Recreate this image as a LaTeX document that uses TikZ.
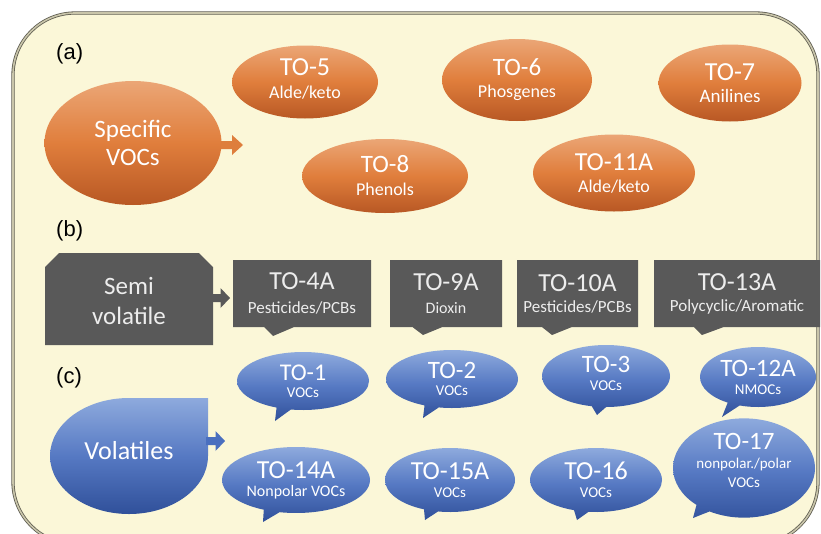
\documentclass[tikz,border=0pt]{standalone}
\usepackage{fontspec}
\setmainfont{Carlito}
\newfontfamily\helv{Liberation Sans}
\usetikzlibrary{shapes.geometric,shapes.callouts}
\definecolor{cream}{HTML}{FBF7D8}
\definecolor{frameDk}{HTML}{5E5C50}
\definecolor{frameLt}{HTML}{C9C5AA}
\definecolor{orTop}{HTML}{EBA676}
\definecolor{orMid}{HTML}{E07E3C}
\definecolor{orBot}{HTML}{B85824}
\definecolor{orArr}{HTML}{DE7E3C}
\definecolor{gy}{HTML}{595959}
\definecolor{gyText}{HTML}{EDEDED}
\definecolor{blTop}{HTML}{8EAADD}
\definecolor{blMid}{HTML}{5679C3}
\definecolor{blBot}{HTML}{30509A}
\definecolor{blArr}{HTML}{4A6FBF}
\newcommand\fs[2]{\fontsize{#1}{#2}\selectfont}
\newcommand\blockarrow[4]{% x0, y, tip x, colour
  \fill[#4] (#1,#2-4) -- ({(#1+#3)/2},#2-4) -- ({(#1+#3)/2},#2-10) -- (#3,#2)
    -- ({(#1+#3)/2},#2+10) -- ({(#1+#3)/2},#2+4) -- (#1,#2+4) -- cycle;}
\tikzset{
  orng/.style={ellipse, inner sep=0pt, top color=orTop, bottom color=orBot, middle color=orMid,
    text=white, align=center},
  gbox/.style={rectangle callout, inner sep=0pt, fill=gy, text=gyText, align=center,
    callout pointer width=30pt},
  bbub/.style={ellipse callout, inner sep=0pt, top color=blTop, bottom color=blBot, middle color=blMid,
    text=white, align=center, callout pointer arc=13},
  sec/.style={font=\helv\fs{22}{24}, text=black, anchor=west, inner sep=0pt},
}
\begin{document}
\begin{tikzpicture}[x=1pt,y=-1pt]
\clip (0,0) rectangle (821,533);
\fill[white] (0,0) rectangle (821,533);
\draw[draw=frameDk, line width=0.8pt, double=frameLt, double distance=1.6pt, fill=cream, rounded corners=62pt]
  (13,13) rectangle (818,544);

% section labels
\node[sec] (la) at (56,54) {(a)};
\node[sec] (lb) at (56,231) {(b)};
\node[sec] (lc) at (56,378) {(c)};

% (a) specific VOCs
\node[orng, minimum width=177pt, minimum height=124pt, font=\fs{25}{28}] (spec) at (133,143) {Specific\\VOCs};
\blockarrow{221}{145}{243}{orArr}
\node[orng, minimum width=146pt, minimum height=73pt, font=\fs{18}{23}, text depth=6pt] (to5) at (305,82) {{\fs{26}{26}TO-5}\\Alde/keto};
\node[orng, minimum width=150pt, minimum height=82pt, font=\fs{18}{22}] (to6) at (517,80) {{\fs{25}{26}TO-6}\\Phosgenes};
\node[orng, minimum width=143pt, minimum height=77pt, font=\fs{19}{22}] (to7) at (730,83) {{\fs{26}{26}TO-7}\\Anilines};
\node[orng, minimum width=166pt, minimum height=74pt, font=\fs{18}{23}] (to8) at (385,176) {{\fs{25}{26}TO-8}\\Phenols};
\node[orng, minimum width=162pt, minimum height=77pt, font=\fs{18}{22}] (to11) at (614,173) {{\fs{26}{26}TO-11A}\\Alde/keto};

% (b) semi volatile
\fill[gy] (45,267) -- (59,253) -- (199,253) -- (213,267) -- (213,345) -- (45,345) -- cycle;
\node[text=gyText, align=center, font=\fs{25}{30}, inner sep=0pt] (semi) at (129,301) {Semi\\volatile};
\blockarrow{211}{298}{230}{gy}
\node[gbox, minimum width=138pt, minimum height=67pt, callout absolute pointer={(273,336)}, font=\fs{17}{24}] (to4) at (302,293.5) {{\fs{26}{26}TO-4A}\\Pesticides/PCBs};
\node[gbox, minimum width=112pt, minimum height=67pt, callout absolute pointer={(423,335)}, font=\fs{16}{23}] (to9) at (446,293.5) {{\fs{26}{26}TO-9A}\\Dioxin};
\node[gbox, minimum width=121pt, minimum height=67pt, callout absolute pointer={(552,335)}, font=\fs{17}{21}] (to10) at (577.5,293.5) {{\fs{26}{26}TO-10A}\\Pesticides/PCBs};
\node[gbox, minimum width=166pt, minimum height=67pt, callout absolute pointer={(702,335)}, font=\fs{17}{21}] (to13) at (737,293.5) {{\fs{26}{26}TO-13A}\\Polycyclic/Aromatic};

% (c) volatiles
\path[top color=blTop, bottom color=blBot, middle color=blMid]
  (129,398) -- (208,398) -- (208,456) arc[start angle=0, end angle=270, x radius=79, y radius=58] -- cycle;
\node[text=white, font=\fs{26}{28}, inner sep=0pt] (vol) at (129,451) {Volatiles};
\blockarrow{206}{441}{225}{blArr}
\node[bbub, minimum width=132pt, minimum height=58pt, callout absolute pointer={(275,421)}, font=\fs{15}{17}] (to1) at (303,381) {{\fs{24}{24}TO-1}\\VOCs};
\node[bbub, minimum width=132pt, minimum height=58pt, callout absolute pointer={(423,418)}, font=\fs{15}{17}] (to2) at (452,379) {{\fs{25}{25}TO-2}\\VOCs};
\node[bbub, minimum width=128pt, minimum height=62pt, callout absolute pointer={(597,415)}, font=\fs{15}{18}, text depth=6pt] (to3) at (606,376) {{\fs{25}{25}TO-3}\\VOCs};
\node[bbub, minimum width=116pt, minimum height=60pt, callout absolute pointer={(722,417)}, font=\fs{15}{18}] (to12) at (758,377) {{\fs{25}{25}TO-12A}\\NMOCs};
\node[bbub, minimum width=148pt, minimum height=66pt, callout absolute pointer={(263,522)}, font=\fs{16}{18}] (to14) at (296,480) {{\fs{26}{25}TO-14A}\\Nonpolar VOCs};
\node[bbub, minimum width=130pt, minimum height=64pt, callout absolute pointer={(425,520)}, font=\fs{15}{18}] (to15) at (450,480) {{\fs{26}{25}TO-15A}\\VOCs};
\node[bbub, minimum width=132pt, minimum height=64pt, callout absolute pointer={(577,520)}, font=\fs{15}{18}] (to16) at (596,480) {{\fs{26}{25}TO-16}\\VOCs};
\node[bbub, minimum width=142pt, minimum height=80pt, callout absolute pointer={(693,518)}, font=\fs{15}{19}, text depth=16pt] (to17) at (744,468) {{\fs{25}{22}TO-17}\\nonpolar./polar\\VOCs};
\end{tikzpicture}
\end{document}
